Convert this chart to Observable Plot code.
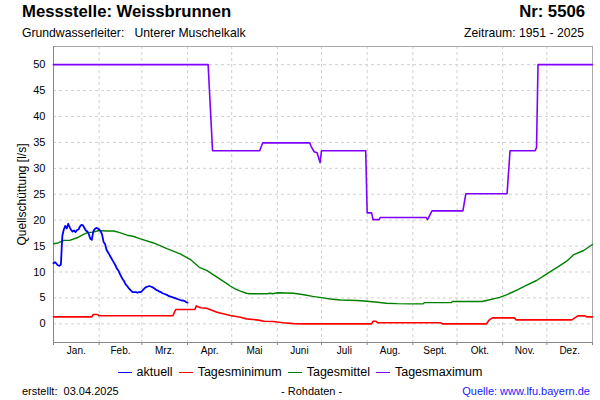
<!DOCTYPE html>
<html><head><meta charset="utf-8">
<script src="https://cdn.jsdelivr.net/npm/d3@7"></script>
<script src="https://cdn.jsdelivr.net/npm/@observablehq/plot@0.6"></script>
<style>
body{margin:0;background:#fff;font-family:"Liberation Sans",Arial,sans-serif;}
#wrap{position:relative;width:600px;height:400px;overflow:hidden;background:#fff}
.t{position:absolute;white-space:nowrap;color:#000;line-height:1}
#chart{position:absolute;left:0;top:40px}
#legend{position:absolute;left:0;top:366px;width:600px;display:flex;justify-content:center;align-items:center;font-size:12.5px;line-height:1}
#legend .sw{display:inline-block;width:14px;height:0;border-top:1.5px solid;margin:0 5px 0 0}
#legend .it{display:flex;align-items:center;margin:0 3px}
</style></head><body><div id="wrap">
<div class="t" style="left:22px;top:4px;font-size:16.7px;font-weight:bold">Messstelle: Weissbrunnen</div>
<div class="t" style="right:15px;top:4px;font-size:16.7px;font-weight:bold">Nr: 5506</div>
<div class="t" style="left:22px;top:26.5px;font-size:12.2px">Grundwasserleiter:&nbsp;&nbsp; Unterer Muschelkalk</div>
<div class="t" style="right:16px;top:26.5px;font-size:12.2px">Zeitraum: 1951 - 2025</div>
<div id="chart"></div>
<div id="legend"></div>
<div class="t" style="left:22px;top:386px;font-size:11px">erstellt:&nbsp; 03.04.2025</div>
<div class="t" style="left:281px;top:386px;font-size:11px">- Rohdaten -</div>
<div class="t" style="right:10px;top:386px;font-size:11px;color:#1a1aff">Quelle: www.lfu.bayern.de</div>
</div>
<script>
const monthLabels = ["Jan.","Feb.","Mrz.","Apr.","Mai","Juni","Juli","Aug.","Sept.","Okt.","Nov.","Dez."];
const yTicks = [0,5,10,15,20,25,30,35,40,45,50];
const seriesNames = ["aktuell","Tagesminimum","Tagesmittel","Tagesmaximum"];
const seriesColors = ["#0000ff","#ff0000","#008000","#8000ff"];

// aktuell: daily values from 1 Jan (day index 0)
const aktuellValues = [11.7,11.9,11.6,11.3,11.2,11.4,17.0,18.2,18.9,18.4,
  19.3,18.6,18.1,17.8,18.0,17.7,18.1,18.2,18.8,19.1,
  19.0,18.5,18.0,17.8,17.3,16.4,16.2,17.8,18.3,18.5,
  18.4,18.2,17.9,17.2,15.8,15.4,14.3,13.8,13.3,12.8,
  12.3,11.8,11.3,10.7,10.3,9.7,9.1,8.6,8.2,7.6,
  7.3,6.9,6.6,6.3,6.1,6.1,6.1,6.0,6.1,6.1,
  6.3,6.6,6.9,7.1,7.2,7.3,7.2,7.1,6.9,6.7,
  6.5,6.4,6.2,6.1,5.9,5.8,5.7,5.6,5.4,5.3,
  5.2,5.1,5.0,4.9,4.8,4.7,4.6,4.5,4.5,4.4,
  4.2,4.1];

const minDays =   [0,26,27,30,31,81,83,96,97,98,100,104,111,120,127,131,138,143,149,156,163,170,216,217,219,220,263,264,294,296,298,313,314,352,354,356,361,362,366];
const minValues = [1.35,1.35,1.8,1.8,1.55,1.55,2.76,2.76,3.47,3.3,3.1,3.0,2.25,1.6,1.27,0.96,0.77,0.5,0.44,0.2,0.05,0,0,0.5,0.5,0.2,0.2,0,0,0.77,1.16,1.16,0.77,0.77,1.16,1.54,1.54,1.35,1.35];

const meanDays =   [0,3,7,11,16,20,23,27,31,36,41,45,50,54,59,68,77,86,93,99,104,111,118,120,123,127,131,133,145,147,149,152,163,170,176,183,188,195,206,213,220,226,233,242,251,252,270,271,291,294,303,308,315,321,328,335,342,349,353,360,366];
const meanValues = [15.45,15.6,16.1,16.1,16.6,17.2,17.6,17.7,18.0,17.9,17.9,17.6,17.1,16.9,16.4,15.6,14.5,13.5,12.4,10.9,10.3,9.0,7.7,7.3,6.8,6.3,5.9,5.8,5.8,5.9,5.8,6.0,5.9,5.6,5.3,5.0,4.8,4.6,4.5,4.36,4.17,3.98,3.9,3.86,3.86,4.1,4.1,4.3,4.3,4.5,5.1,5.65,6.56,7.4,8.36,9.65,10.9,12.2,13.3,14.15,15.3];

const maxDays =   [0,105,108,140,142,174,175,177,179,181,182,212,213,216,217,221,222,253,254,257,278,280,308,310,327,328,329,366];
const maxValues = [50,50,33.4,33.4,34.9,34.9,34.2,33.2,33.0,31.1,33.4,33.4,21.4,21.4,20.1,20.1,20.5,20.5,20.1,21.8,21.8,25.1,25.1,33.4,33.4,34.0,50,50];

const x0 = new Date(Date.UTC(2024,0,1));
const x1 = new Date(Date.UTC(2025,0,1));
const toDate = d => d3.utcDay.offset(x0, d);
const monthStarts = d3.utcMonth.range(x0, new Date(Date.UTC(2025,0,2)));
const monthMids = monthLabels.map((label,i) => ({label, date: new Date((monthStarts[i].getTime()+monthStarts[i+1].getTime())/2)}));

const aktuell = aktuellValues.map((v,i)=>({date:toDate(i), value:v}));
const minData = minDays.map((d,i)=>({date:toDate(d), value:minValues[i]}));
const meanData = meanDays.map((d,i)=>({date:toDate(d), value:meanValues[i]}));
const maxData = maxDays.map((d,i)=>({date:toDate(d), value:maxValues[i]}));

const chart = Plot.plot({
  width: 600, height: 320,
  marginTop: 6, marginBottom: 18, marginLeft: 53, marginRight: 8,
  x: {type: "utc", domain: [x0, x1]},
  y: {domain: [-3.6, 53.5]},
  style: {fontFamily: "Liberation Sans, Arial, sans-serif", fontSize: "11px", color: "#000", background: "#fff", overflow: "visible"},
  marks: [
    Plot.gridY(yTicks, {stroke: "#d0d0d0", strokeOpacity: 1, strokeDasharray: "3,3"}),
    Plot.gridX(monthStarts, {stroke: "#d0d0d0", strokeOpacity: 1, strokeDasharray: "3,3"}),
    Plot.frame({stroke: "#aaa"}),
    Plot.axisY(yTicks, {tickSize: 0, tickPadding: 8, label: null, fontSize: 11}),
    Plot.axisX(monthStarts, {tickSize: 3, tickFormat: () => "", label: null, stroke: "#888"}),
    Plot.ruleX([x0], {stroke: "#888"}),
    Plot.ruleY([-3.6], {stroke: "#888"}),
    Plot.text(monthMids, {x: "date", text: "label", frameAnchor: "bottom", dy: 11, fontSize: 10, textAnchor: "middle", style: "letter-spacing:0.6px"}),
    Plot.text(["Quellschüttung [l/s]"], {frameAnchor: "left", rotate: -90, dx: -31, fontSize: 12, textAnchor: "middle"}),
    Plot.line(maxData, {x: "date", y: "value", stroke: seriesColors[3], strokeWidth: 1.6}),
    Plot.line(meanData, {x: "date", y: "value", stroke: seriesColors[2], strokeWidth: 1.4}),
    Plot.line(minData, {x: "date", y: "value", stroke: seriesColors[1], strokeWidth: 1.6}),
    Plot.line(aktuell, {x: "date", y: "value", stroke: seriesColors[0], strokeWidth: 1.8})
  ]
});
document.getElementById("chart").appendChild(chart);

const legend = document.getElementById("legend");
seriesNames.forEach((n,i)=>{
  const it = document.createElement("span"); it.className = "it";
  const sw = document.createElement("span"); sw.className = "sw"; sw.style.borderTopColor = seriesColors[i];
  const tx = document.createElement("span"); tx.textContent = n;
  it.appendChild(sw); it.appendChild(tx); legend.appendChild(it);
});
</script>
</body></html>
